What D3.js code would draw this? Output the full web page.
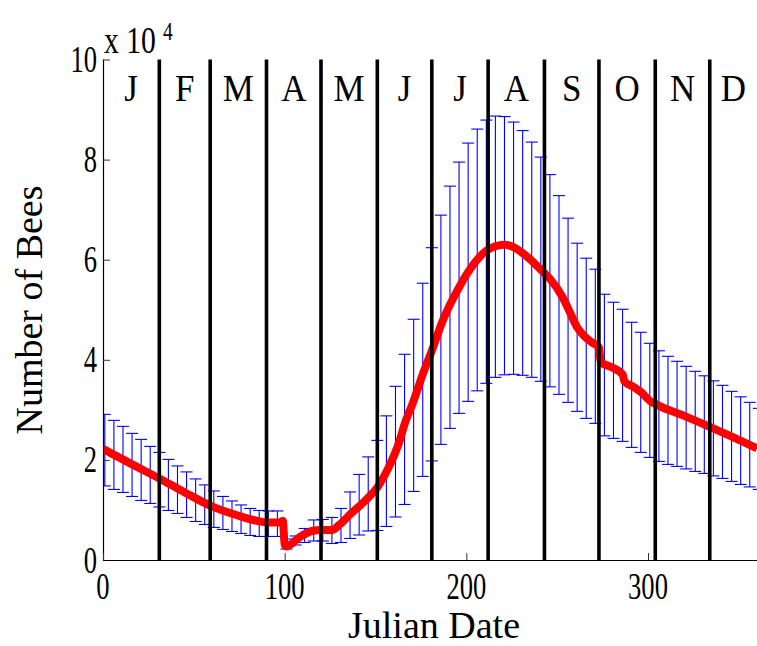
<!DOCTYPE html>
<html><head><meta charset="utf-8">
<script src="https://cdn.jsdelivr.net/npm/d3@7"></script>
<style>
html,body{margin:0;padding:0;background:#fff;}
svg{display:block;}
text{font-family:"Liberation Serif","Times New Roman",serif;fill:#000;}
</style>
</head><body>
<svg id="chart" width="757" height="646"></svg>
<script>
// ---- data (values in units of 10^4 bees) ----
const monthLabels = ["J","F","M","A","M","J","J","A","S","O","N","D"];
const monthStarts = [0,31,59,90,120,151,181,212,243,273,304,334,365];
const xTicks = [0,100,200,300];
const yTicks = [0,2,4,6,8,10];
const barDays = [1,6,11,16,21,26,31,36,41,46,51,56,61,66,71,76,81,86,91,96,
  101,106,111,116,121,126,131,136,141,146,151,156,161,166,171,176,181,186,191,196,
  201,206,211,216,221,226,231,236,241,246,251,256,261,266,271,276,281,286,291,296,
  301,306,311,316,321,326,331,336,341,346,351,356,361];
const barUpper = [2.91,2.79,2.67,2.53,2.41,2.27,2.15,2.01,1.88,1.76,1.62,1.50,1.38,1.27,1.18,1.10,1.03,0.99,0.98,0.98,
  0.42,0.48,0.63,0.80,0.81,0.85,1.03,1.36,1.71,2.06,2.39,2.88,3.47,4.11,4.81,5.53,6.24,6.89,7.47,7.95,
  8.33,8.61,8.79,8.87,8.86,8.75,8.58,8.35,8.05,7.70,7.28,6.83,6.33,6.03,5.81,5.31,5.15,5.01,4.75,4.55,
  4.33,4.18,4.07,3.97,3.87,3.77,3.68,3.58,3.49,3.37,3.26,3.15,3.03];
const barLower = [1.48,1.41,1.35,1.27,1.19,1.13,1.06,0.99,0.93,0.85,0.77,0.71,0.65,0.61,0.57,0.53,0.49,0.47,0.47,0.47,
  0.22,0.30,0.35,0.38,0.38,0.33,0.35,0.43,0.50,0.58,0.59,0.67,0.86,1.11,1.37,1.67,1.98,2.31,2.63,2.93,
  3.17,3.38,3.53,3.65,3.70,3.71,3.69,3.65,3.57,3.46,3.31,3.15,2.97,2.83,2.73,2.48,2.43,2.37,2.25,2.15,
  2.05,1.97,1.91,1.87,1.82,1.77,1.73,1.68,1.63,1.57,1.51,1.46,1.41];
const lineDays = [0,15,31,45,60,75,85,90,97,99,100,101,108,115,120,126,130,136,145,151,158,163,166,171,176,181,187,195,202,211,
  216,221,226,230,236,241,246,253,257,261,265,269,273,274,280,286,287,292,296,301,305,320,334,347,360];
const lineValues = [2.22,1.93,1.63,1.35,1.07,0.88,0.78,0.75,0.75,0.78,0.31,0.27,0.45,0.58,0.60,0.60,0.70,0.91,1.21,1.45,1.91,2.35,2.71,3.18,3.71,4.18,4.78,5.38,5.81,6.18,
  6.27,6.30,6.25,6.16,5.98,5.80,5.62,5.25,4.95,4.65,4.47,4.35,4.25,3.95,3.85,3.71,3.57,3.46,3.36,3.18,3.10,2.88,2.66,2.45,2.23];

// ---- layout ----
const svg = d3.select("#chart");
const L = 103, R = 757, T = 59.5, B = 560;
const x = d3.scaleLinear().domain([0,360]).range([L,R]);
const y = d3.scaleLinear().domain([0,10]).range([B,T]);
const FS = 38, DIGIT_SX = 0.7;

svg.append("rect").attr("width",757).attr("height",646).attr("fill","#fff");
svg.append("defs").append("clipPath").attr("id","plotclip")
  .append("rect").attr("x",L).attr("y",0).attr("width",R-L).attr("height",B);

const plot = svg.append("g").attr("clip-path","url(#plotclip)");

// error bars
const bars = barDays.map((d,i)=>({d, hi:barUpper[i], lo:barLower[i]}));
const capW = 6;
const eb = plot.append("g").attr("stroke","#0000ff").attr("stroke-width",1.1).attr("fill","none");
eb.selectAll("line.v").data(bars).join("line").attr("class","v")
  .attr("x1",b=>x(b.d)).attr("x2",b=>x(b.d)).attr("y1",b=>y(b.hi)).attr("y2",b=>y(b.lo));
eb.selectAll("line.t").data(bars).join("line").attr("class","t")
  .attr("x1",b=>x(b.d)-capW).attr("x2",b=>x(b.d)+capW).attr("y1",b=>y(b.hi)).attr("y2",b=>y(b.hi));
eb.selectAll("line.b").data(bars).join("line").attr("class","b")
  .attr("x1",b=>x(b.d)-capW).attr("x2",b=>x(b.d)+capW).attr("y1",b=>y(b.lo)).attr("y2",b=>y(b.lo));

// mean line
const pts = lineDays.map((d,i)=>[d,lineValues[i]]);
plot.append("path").datum(pts)
  .attr("fill","none").attr("stroke","#ff0000").attr("stroke-width",8)
  .attr("stroke-linejoin","round")
  .attr("d", d3.line().x(p=>x(p[0])).y(p=>y(p[1])).curve(d3.curveMonotoneX));

// month boundary lines
plot.append("g").selectAll("line").data(monthStarts.slice(1,12)).join("line")
  .attr("x1",d=>x(d)).attr("x2",d=>x(d)).attr("y1",y(10)).attr("y2",B)
  .attr("stroke","#000").attr("stroke-width",3.6);

// month labels
svg.append("g").selectAll("text").data(monthLabels).join("text")
  .attr("transform",(m,i)=>{
    const c = (monthStarts[i] + Math.min(monthStarts[i+1],360))/2;
    return `translate(${x(c)},101) scale(0.92,1)`;
  })
  .attr("text-anchor","middle").attr("font-size",FS).text(m=>m);

// axes
const yAxis = d3.axisLeft(y).tickValues(yTicks).tickSize(-7).tickFormat("");
const gy = svg.append("g").attr("transform",`translate(${L},0)`).call(yAxis);
gy.select(".domain").attr("stroke","#000").attr("stroke-width",1.2).attr("d",`M0.5,${T}V${B}`);
gy.selectAll(".tick line").attr("stroke","#333");

const xAxis = d3.axisBottom(x).tickValues(xTicks).tickSize(-7).tickFormat("");
const gx = svg.append("g").attr("transform",`translate(0,${B})`).call(xAxis);
gx.select(".domain").attr("stroke","#000").attr("stroke-width",1.2).attr("d",`M${L},0.5H${R}`);
gx.selectAll(".tick line").attr("stroke","#333");

// tick labels (condensed digits)
svg.append("g").selectAll("text").data(yTicks).join("text")
  .attr("transform",v=>`translate(97,${y(v)+12.5}) scale(${DIGIT_SX},1)`)
  .attr("text-anchor","end").attr("font-size",FS).text(v=>v);
svg.append("g").selectAll("text").data(xTicks).join("text")
  .attr("transform",v=>`translate(${x(v)},599) scale(${DIGIT_SX},1)`)
  .attr("text-anchor","middle").attr("font-size",FS).text(v=>v);

// exponent label
svg.append("text").attr("transform","translate(104,53) scale(0.78,1)")
  .attr("font-size",FS).text("x 10");
svg.append("text").attr("transform","translate(163,40) scale(0.75,1)")
  .attr("font-size",26).text("4");

// axis titles
svg.append("text").attr("transform","translate(434,638)")
  .attr("text-anchor","middle").attr("font-size",FS).text("Julian Date");
svg.append("text").attr("transform","translate(42,310) rotate(-90)")
  .attr("text-anchor","middle").attr("font-size",FS).text("Number of Bees");
</script>
</body></html>
